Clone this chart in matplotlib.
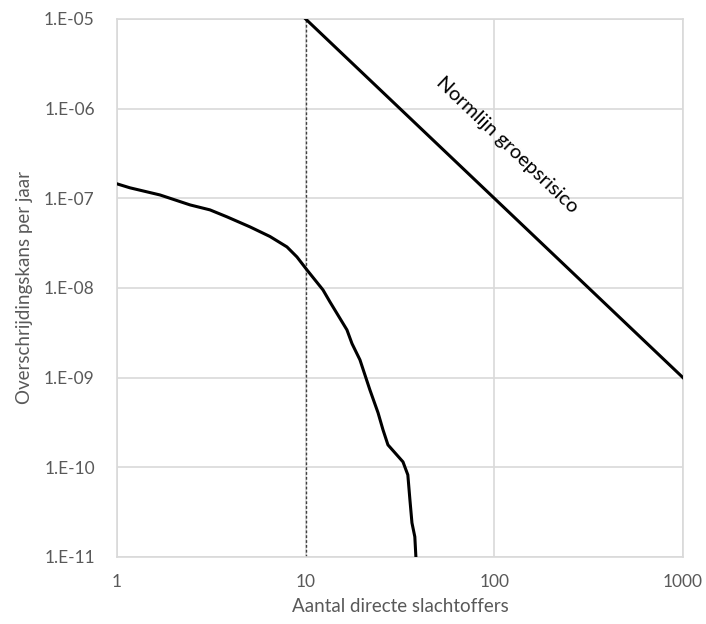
import numpy as np
from matplotlib import pyplot as plt
from matplotlib.ticker import FixedLocator, FuncFormatter

# curve
slachtoffers = [1.0, 1.17, 1.69, 2.44, 3.11, 3.83, 5.07, 6.47, 7.96, 8.99, 10.16,
                12.35, 13.45, 16.55, 17.6, 19.4, 21.9, 24.2, 25.7, 27.3, 32.8,
                34.8, 35.7, 36.6, 37.9, 38.4]
kans = [1.45e-7, 1.31e-7, 1.09e-7, 8.44e-8, 7.43e-8, 6.21e-8, 4.80e-8, 3.75e-8,
        2.87e-8, 2.22e-8, 1.59e-8, 9.53e-9, 7.0e-9, 3.41e-9, 2.40e-9, 1.58e-9,
        7.31e-10, 4.05e-10, 2.62e-10, 1.78e-10, 1.15e-10, 8.24e-11, 4.34e-11,
        2.40e-11, 1.68e-11, 1.0e-11]

# normlijn: 1e-3 / N^2
norm_x = [10, 1000]
norm_y = [1e-5, 1e-9]

xticks = [1, 10, 100, 1000]
yticks = [1e-11, 1e-10, 1e-9, 1e-8, 1e-7, 1e-6, 1e-5]

plt.rcParams['font.family'] = ['Lato', 'DejaVu Sans']
grijs = '#595959'

fig = plt.figure(figsize=(7.06, 6.24), dpi=100)
ax = fig.add_axes([0.1657, 0.1074, 0.8017, 0.8622])

ax.set_xscale('log')
ax.set_yscale('log')
ax.set_xlim(1, 1000)
ax.set_ylim(1e-11, 1e-5)

ax.plot(slachtoffers, kans, color='black', lw=2.2, zorder=3)
ax.plot(norm_x, norm_y, color='black', lw=2.2, zorder=3)
ax.plot([10, 10], [1e-11, 1e-5], color='#404040', lw=1, ls=(0, (2, 1.5)), zorder=2)

ax.text(116.6, 3.93e-7, 'Normlijn groepsrisico', rotation=-43.6, rotation_mode='anchor',
        ha='center', va='center', fontsize=14.5, color='black')

ax.xaxis.set_major_locator(FixedLocator(xticks))
ax.yaxis.set_major_locator(FixedLocator(yticks))
ax.xaxis.set_minor_locator(FixedLocator([]))
ax.yaxis.set_minor_locator(FixedLocator([]))
ax.xaxis.set_major_formatter(FuncFormatter(lambda v, p: '%d' % round(v)))
ax.yaxis.set_major_formatter(FuncFormatter(lambda v, p: '1.E-%02d' % round(-np.log10(v))))
ax.tick_params(length=0, labelsize=12.5, colors=grijs, pad=12)
ax.tick_params(axis='y', pad=16)

ax.grid(True, color='#d9d9d9', lw=1.2)
for s in ax.spines.values():
    s.set_color('#d9d9d9')
    s.set_linewidth(1.2)

ax.set_xlabel('Aantal directe slachtoffers', fontsize=13.5, color=grijs, labelpad=6)
ax.set_ylabel('Overschrijdingskans per jaar', fontsize=13.5, color=grijs, labelpad=8)

fig.savefig('out.png')
